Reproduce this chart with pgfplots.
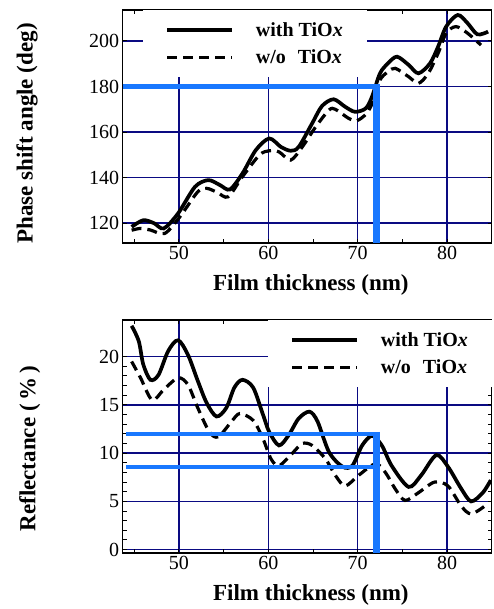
\documentclass[border=0pt]{standalone}
\usepackage{fontspec}
\setmainfont{Liberation Serif}
\usepackage{pgfplots}
\pgfplotsset{compat=1.18}

\definecolor{gridnavy}{RGB}{10,10,130}
\definecolor{markblue}{RGB}{25,120,255}

\pgfplotsset{
  film/.style={
    scale only axis, width=369pt, height=233pt,
    xmin=43.7, xmax=85,
    xtick={50,60,70,80}, minor xtick={45,55,65,75,85},
    grid=major, major grid style={gridnavy, line width=1.5pt},
    axis line style={line width=1.4pt},
    tick style={black, line width=1pt},
    major tick length=4pt, minor tick length=4pt,
    tick align=inside,
    ticklabel style={font=\fontsize{20}{24}\selectfont},
    /pgf/number format/assume math mode=true,
    label style={font=\bfseries\fontsize{23}{27}\selectfont},
    xlabel={Film thickness (nm)},
    xlabel style={at={(axis description cs:0.51,0)}, anchor=center, yshift=-42pt},
    legend style={draw=none, fill=white, anchor=north west,
      font=\bfseries\fontsize{20}{24}\selectfont,
      inner xsep=22pt, inner ysep=10pt, row sep=8pt},
    legend cell align=left,
    legend image code/.code={\draw[##1] (0pt,0pt) -- (65pt,0pt); \path (85pt,0pt);},
  },
  withline/.style={black, line width=3.7pt, smooth},
  woline/.style={black, line width=3.2pt, dash pattern=on 10pt off 6pt, smooth},
}

\begin{document}
\begin{tikzpicture}
\useasboundingbox (-122.7pt,243pt) rectangle (371.3pt,-366pt);

% phase shift
\begin{axis}[film, at={(0pt,0pt)},
  ymin=111.3, ymax=213.6, ytick={120,140,...,200},
  ylabel={Phase shift angle (deg)},
  ylabel style={at={(axis description cs:-0.259,0.47)}, anchor=center},
  legend style={at={(rel axis cs:0.055,1)}}]
\addplot[withline] coordinates {
  (44.7,118.4)(46.0,121.3)(47.2,120.0)(48.3,117.7)(49.9,124.3)(51.8,136.0)
  (53.3,138.9)(54.6,136.7)(55.7,134.8)(57.1,141.8)(58.6,152.1)(60.1,157.2)
  (61.4,153.5)(62.5,151.8)(63.4,153.5)(64.9,163.8)(66.0,171.4)(67.3,174.4)
  (68.6,171.1)(69.7,168.9)(70.9,170.4)(71.6,175.5)(72.5,185.8)(73.4,190.2)
  (74.4,193.1)(75.7,189.5)(76.8,185.8)(78.1,190.2)(79.0,197.5)(79.9,206.3)
  (81.2,211.4)(82.3,207.8)(83.4,202.9)(84.6,204.1)};
\addlegendentry{with TiO\textit{x}}
\addplot[woline] coordinates {
  (44.7,116.9)(45.7,117.7)(46.8,117.0)(48.4,115.5)(50.1,122.8)(52.1,133.8)
  (53.1,135.3)(54.3,133.5)(55.5,131.6)(57.1,140.4)(59.0,149.9)(60.1,151.8)
  (61.2,151.3)(62.5,147.7)(63.8,153.5)(65.3,162.3)(66.8,169.7)(67.5,170.0)
  (69.0,166.0)(69.9,165.0)(71.0,168.2)(71.8,174.1)(72.5,182.9)(73.4,186.5)
  (74.2,188.0)(75.7,184.3)(76.8,181.4)(77.9,185.8)(79.0,194.6)(79.9,203.4)
  (81.0,206.3)(82.3,203.4)(83.8,198.2)};
\addlegendentry{w/o\hspace{0.6em}TiO\textit{x}}
\addplot[markblue, line width=4.5pt, forget plot] coordinates {(43.7,180)(72.5,180)};
\addplot[markblue, line width=7.5pt, forget plot] coordinates {(72.1,181)(72.1,111.3)};
\end{axis}

% reflectance
\begin{axis}[film, at={(0pt,-310pt)},
  ymin=-0.35, ymax=23.8, ytick={0,5,...,20}, minor y tick num=4,
  ylabel={Reflectance (\,\%\,)},
  ylabel style={at={(axis description cs:-0.252,0.448)}, anchor=center},
  legend style={at={(rel axis cs:0.394,1)}}]
\addplot[withline] coordinates {
  (44.7,23.2)(45.5,21.6)(46.0,19.2)(46.8,17.6)(47.7,18.1)(48.8,20.6)
  (49.9,21.7)(51.0,20.2)(52.1,17.5)(53.1,15.2)(54.2,13.8)(55.3,14.7)
  (56.2,16.8)(57.1,17.6)(58.3,16.8)(59.4,14.0)(60.1,12.2)(61.2,10.8)
  (62.3,11.9)(63.4,13.6)(64.6,14.3)(65.5,13.3)(66.8,10.1)(68.3,8.6)
  (69.4,8.7)(70.5,10.8)(71.6,11.8)(72.7,10.8)(73.8,8.7)(75.7,6.5)
  (77.1,7.7)(78.8,9.8)(80.1,8.6)(81.6,6.3)(82.7,5.0)(84.0,5.9)(84.9,7.2)};
\addlegendentry{with TiO\textit{x}}
\addplot[woline] coordinates {
  (44.7,19.5)(45.7,17.8)(47.0,15.5)(48.3,16.6)(49.9,17.8)(51.0,17.1)
  (52.1,14.7)(53.4,12.2)(54.4,11.7)(55.9,13.3)(56.8,14.1)(58.3,13.4)
  (59.4,11.5)(60.3,9.4)(61.2,8.7)(62.7,10.0)(63.8,11.0)(64.9,10.8)
  (66.4,9.4)(67.5,7.7)(68.6,6.6)(70.1,7.7)(72.0,8.9)(73.1,8.0)
  (74.2,6.3)(75.3,5.1)(76.8,5.9)(78.6,7.0)(80.1,6.6)(81.6,4.5)
  (82.7,3.7)(84.2,4.5)};
\addlegendentry{w/o\hspace{0.6em}TiO\textit{x}}
\addplot[markblue, line width=4pt, forget plot] coordinates {(44.1,12.0)(72.5,12.0)};
\addplot[markblue, line width=4pt, forget plot] coordinates {(44.1,8.6)(72.1,8.6)};
\addplot[markblue, line width=7.5pt, forget plot] coordinates {(72.1,12.2)(72.1,-0.35)};
\end{axis}
\end{tikzpicture}
\end{document}
